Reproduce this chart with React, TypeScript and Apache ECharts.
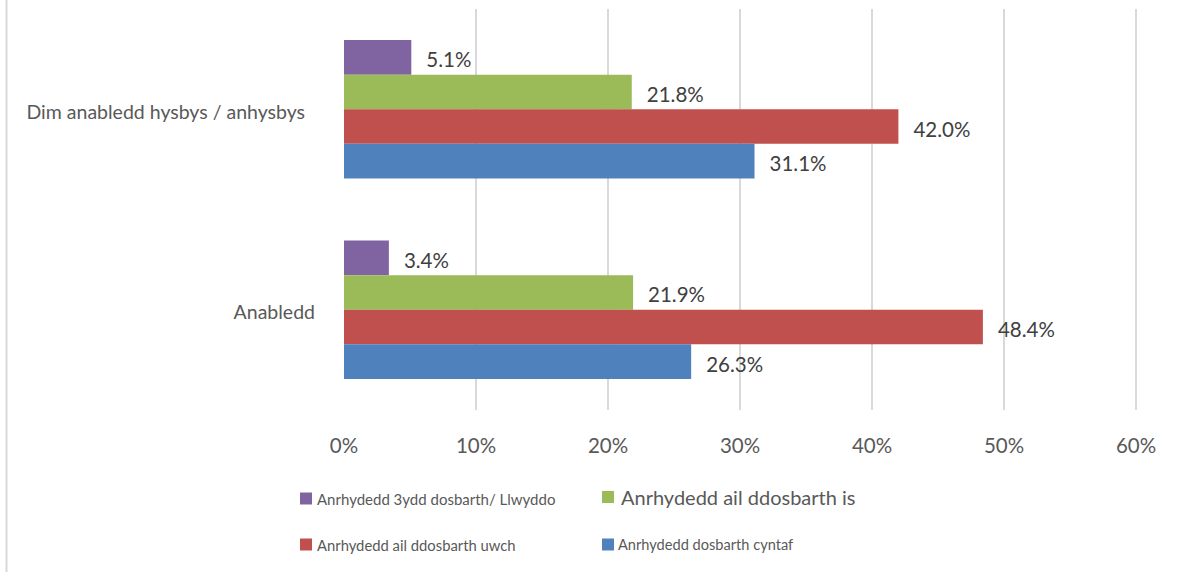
import React, { useEffect, useRef } from "react";
import * as echarts from "echarts";

const categories = ["Anabledd", "Dim anabledd hysbys / anhysbys"];
const seriesNames = [
  "Anrhydedd 3ydd dosbarth/ Llwyddo",
  "Anrhydedd ail ddosbarth is",
  "Anrhydedd ail ddosbarth uwch",
  "Anrhydedd dosbarth cyntaf",
];
const thirdClass = [3.4, 5.1];
const lowerSecond = [21.9, 21.8];
const upperSecond = [48.4, 42.0];
const firstClass = [26.3, 31.1];
const colors = ["#8064A2", "#9BBB59", "#C0504D", "#4F81BD"];
const FONT = "Lato";

export default function App() {
  const ref = useRef<HTMLDivElement>(null);
  useEffect(() => {
    document.body.style.margin = "0";
    const chart = echarts.init(ref.current!, null, { renderer: "svg" });
    const values = [thirdClass, lowerSecond, upperSecond, firstClass];
    const legendPos = [
      { left: 300, top: 491, size: 15, gap: 5 },
      { left: 602, top: 487, size: 20, gap: 7 },
      { left: 300, top: 537, size: 14.8, gap: 5 },
      { left: 602, top: 537, size: 14.6, gap: 4 },
    ];
    chart.setOption({
      animation: false,
      textStyle: { fontFamily: FONT },
      grid: { left: 344, right: 42, top: 9, bottom: 162, containLabel: false },
      legend: seriesNames.map((n, i) => ({
        data: [n],
        left: legendPos[i].left,
        top: legendPos[i].top,
        icon: "rect",
        itemWidth: 12,
        itemHeight: 12,
        itemGap: 5,
        padding: 0,
        selectedMode: false,
        textStyle: { fontSize: legendPos[i].size, color: "#595959", fontFamily: FONT, padding: [0, 0, 0, legendPos[i].gap - 5] },
      })),
      xAxis: {
        type: "value",
        min: 0,
        max: 60,
        interval: 10,
        axisLine: { show: false },
        axisTick: { show: false },
        axisLabel: { formatter: "{value}%", fontSize: 20.5, color: "#595959", margin: 24, fontFamily: FONT },
        splitLine: { show: true, lineStyle: { color: ["rgba(0,0,0,0)", "#d9d9d9", "#d9d9d9", "#d9d9d9", "#d9d9d9", "#d9d9d9", "#d9d9d9"], width: 2 } },
      },
      yAxis: {
        type: "category",
        data: categories,
        axisLine: { show: false },
        axisTick: { show: false },
        axisLabel: {
          fontSize: 19.5,
          color: "#595959",
          margin: 29,
          fontFamily: FONT,
          formatter: (v: string) => (v === "Anabledd" ? `{a|${v}}` : `{b|${v}}`),
          rich: {
            a: { fontSize: 19.5, color: "#595959", fontFamily: FONT, padding: [4, 0, 0, 0] },
            b: { fontSize: 19.5, color: "#595959", fontFamily: FONT, padding: [4, 10, 0, 0] },
          },
        },
      },
      series: seriesNames.map((n, i) => ({
        name: n,
        type: "bar",
        data: values[i],
        barGap: "0%",
        barCategoryGap: "31%",
        itemStyle: { color: colors[i] },
        label: {
          show: true,
          position: "right",
          distance: 15,
          offset: [0, 2],
          fontSize: 20.5,
          color: "#404040",
          fontFamily: FONT,
          formatter: (p: any) => p.value.toFixed(1) + "%",
        },
      })),
      graphic: [
        { type: "line", shape: { x1: 6.5, y1: 0, x2: 6.5, y2: 572 }, style: { stroke: "#d9d9d9", lineWidth: 2 } },
      ],
    });
    return () => chart.dispose();
  }, []);
  return <div ref={ref} style={{ width: 1178, height: 572 }} />;
}
